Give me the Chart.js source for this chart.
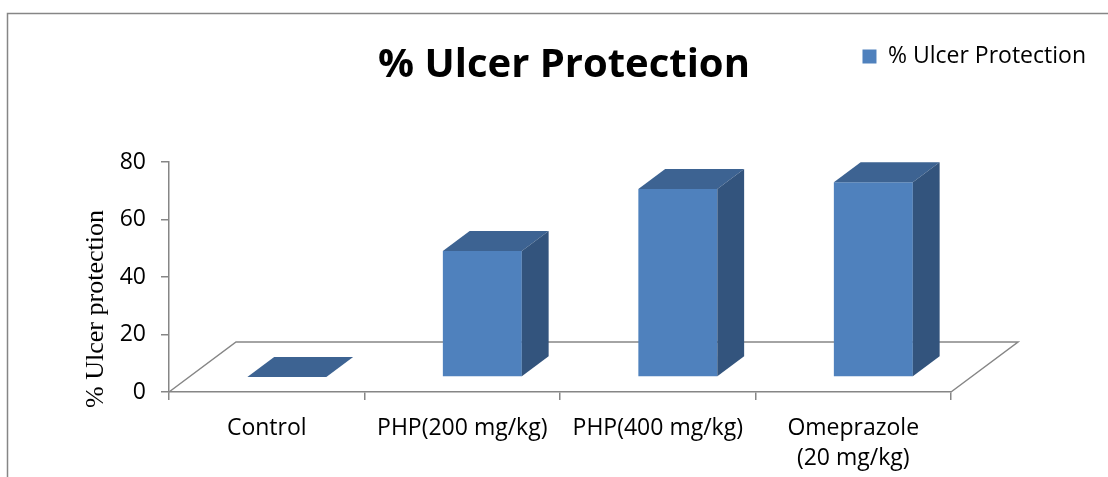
<!DOCTYPE html>
<html>
<head>
<meta charset="utf-8">
<script src="https://cdn.jsdelivr.net/npm/chart.js@4.4.7/dist/chart.umd.min.js"></script>
<style>
  html, body { margin: 0; padding: 0; background: #fff; }
  #wrap { width: 1108px; height: 477px; position: relative; }
</style>
</head>
<body>
<div id="wrap"><canvas id="chart"></canvas></div>
<script>
const categories = ['Control', 'PHP(200 mg/kg)', 'PHP(400 mg/kg)', ['Omeprazole', '(20 mg/kg)']];
const protection = [0, 43.8, 65.4, 67.7];
const seriesName = '% Ulcer Protection';
const axisTitle = '% Ulcer protection';
const yMin = 0, yMax = 80, yStep = 20;

// oblique floor depth, and where the boxes sit inside it
const FLOOR_DX = 67, FLOOR_DY = -50;
const BAR_FRONT = 0.3, BAR_DEPTH = 0.4;

const GRAY = '#868686';
const FONT = "'Open Sans', sans-serif";

const box3d = {
  id: 'box3d',
  beforeDraw(chart) {
    const ctx = chart.ctx;
    ctx.save();
    ctx.fillStyle = '#fff';
    ctx.fillRect(0, 0, chart.width, chart.height);
    ctx.strokeStyle = GRAY;
    ctx.lineWidth = 1.5;
    ctx.beginPath();
    ctx.moveTo(7.5, chart.height);
    ctx.lineTo(7.5, 13.5);
    ctx.lineTo(chart.width, 13.5);
    ctx.stroke();
    ctx.restore();
  },
  beforeDatasetsDraw(chart) {
    const {ctx, chartArea: a} = chart;
    ctx.save();
    ctx.strokeStyle = GRAY;
    ctx.lineWidth = 1.5;
    ctx.beginPath();
    ctx.moveTo(a.left, a.bottom);
    ctx.lineTo(a.left + FLOOR_DX, a.bottom + FLOOR_DY);
    ctx.lineTo(a.right + FLOOR_DX, a.bottom + FLOOR_DY);
    ctx.lineTo(a.right, a.bottom);
    ctx.stroke();
    ctx.restore();
    // front faces are drawn by Chart.js, pushed back into the floor
    ctx.save();
    ctx.translate(FLOOR_DX * BAR_FRONT, FLOOR_DY * BAR_FRONT);
  },
  afterDatasetsDraw(chart) {
    const ctx = chart.ctx;
    const dx = FLOOR_DX * BAR_DEPTH, dy = FLOOR_DY * BAR_DEPTH;
    chart.getDatasetMeta(0).data.forEach(bar => {
      const {x, y, base, width} = bar.getProps(['x', 'y', 'base', 'width'], true);
      const l = x - width / 2, r = x + width / 2;
      ctx.fillStyle = '#3D6392';
      ctx.beginPath();
      ctx.moveTo(l, y); ctx.lineTo(r, y);
      ctx.lineTo(r + dx, y + dy); ctx.lineTo(l + dx, y + dy);
      ctx.closePath();
      ctx.fill();
      if (base - y > 0.5) {
        ctx.fillStyle = '#33547D';
        ctx.beginPath();
        ctx.moveTo(r, y); ctx.lineTo(r + dx, y + dy);
        ctx.lineTo(r + dx, base + dy); ctx.lineTo(r, base);
        ctx.closePath();
        ctx.fill();
      }
    });
    ctx.restore();
  },
  afterDraw(chart) {
    const {ctx, chartArea: a} = chart;
    ctx.save();
    ctx.font = "26px 'Liberation Serif', serif";
    ctx.fillStyle = '#000';
    ctx.textAlign = 'center';
    ctx.textBaseline = 'alphabetic';
    ctx.translate(a.left - 66, (a.top + a.bottom) / 2 + 32);
    ctx.rotate(-Math.PI / 2);
    ctx.fillText(axisTitle, 0, 0);
    ctx.restore();
  }
};

new Chart(document.getElementById('chart'), {
  type: 'bar',
  data: {
    labels: categories,
    datasets: [{
      label: seriesName,
      data: protection,
      backgroundColor: '#4F81BD',
      borderWidth: 0,
      categoryPercentage: 1,
      barPercentage: 0.404,
      clip: false
    }]
  },
  options: {
    responsive: true,
    maintainAspectRatio: false,
    animation: false,
    events: [],
    layout: { padding: { left: 32, right: 12, top: 35, bottom: 0 } },
    plugins: {
      legend: {
        position: 'top',
        align: 'end',
        weight: 3000,
        labels: {
          boxWidth: 14,
          boxHeight: 14,
          padding: 10,
          color: '#000',
          font: { family: FONT, size: 23 }
        }
      },
      title: {
        display: true,
        text: seriesName,
        color: '#000',
        weight: 2000,
        font: { family: FONT, size: 40, weight: 'bold' },
        padding: { top: -36, bottom: 72 }
      },
      tooltip: { enabled: false }
    },
    scales: {
      x: {
        grid: { drawOnChartArea: false, tickLength: 8, color: GRAY, lineWidth: 1.5 },
        border: { color: GRAY, width: 1.5 },
        ticks: {
          color: '#000',
          padding: 14,
          maxRotation: 0,
          autoSkip: false,
          font: { family: FONT, size: 23, lineHeight: 1.3 }
        },
        afterFit(s) { s.height = 85; }
      },
      y: {
        min: yMin,
        max: yMax,
        grid: { drawOnChartArea: false, tickLength: 8, color: GRAY, lineWidth: 1.5 },
        border: { color: GRAY, width: 1.5 },
        ticks: {
          stepSize: yStep,
          color: '#000',
          padding: 15,
          font: { family: FONT, size: 23 }
        },
        afterFit(s) { s.width = 137; }
      },
      spacer: {
        type: 'linear',
        position: 'right',
        grid: { display: false },
        border: { display: false },
        ticks: { display: false },
        afterFit(s) { s.width = 145; }
      }
    }
  },
  plugins: [box3d]
});
</script>
</body>
</html>
